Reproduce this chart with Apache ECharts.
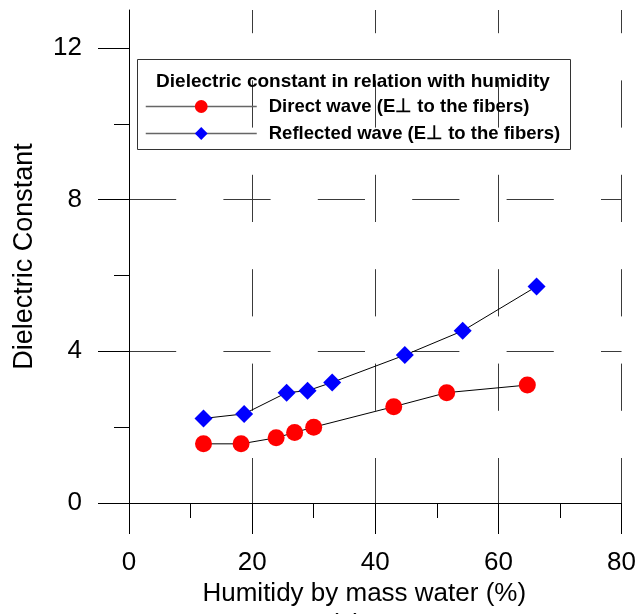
<!DOCTYPE html>
<html lang="en">
<head>
    <meta charset="UTF-8">
    <title>Dielectric constant</title>
    <style type="text/css">
        html, body { margin: 0; padding: 0; background: #fff; }
        #main { width: 639px; height: 614px; }
    </style>
</head>
<body>
<div id="main"></div>
<script type="text/javascript" src="https://cdn.jsdelivr.net/npm/echarts@6/dist/echarts.min.js"></script>
<script type="text/javascript">
    // values
    var humidityDirect = [12.1, 18.2, 23.9, 26.9, 30.0, 43.0, 51.6, 64.7];
    var directWave = [1.56, 1.56, 1.72, 1.86, 2.00, 2.54, 2.91, 3.11];
    var humidityReflected = [12.1, 18.7, 25.6, 29.0, 33.0, 44.8, 54.2, 66.2];
    var reflectedWave = [2.23, 2.35, 2.91, 2.96, 3.18, 3.90, 4.54, 5.71];
    var yTicks = [0, 4, 8, 12];
    var yMinorTicks = [2, 6, 10];
    var seriesNames = ['Direct wave (E\u22A5 to the fibers)', 'Reflected wave (E\u22A5 to the fibers)'];
    var legendTitle = 'Dielectric constant in relation with humidity';

    function pairs(xs, ys) {
        var out = [];
        for (var i = 0; i < xs.length; i++) out.push([xs[i], ys[i]]);
        return out;
    }

    var font = 'Liberation Sans, Arial, sans-serif';
    var gridColor = '#3a3a3a';

    var myChart = echarts.init(document.getElementById('main'));
    var option = {
        animation: false,
        backgroundColor: '#fff',
        textStyle: { fontFamily: font },
        grid: { left: 129, right: 15, top: 10, bottom: 111 },
        xAxis: {
            type: 'value',
            min: 0, max: 80, interval: 20,
            name: 'Humitidy by mass water (%)',
            nameLocation: 'middle',
            nameGap: 74,
            nameTextStyle: { fontSize: 26, color: '#000', fontFamily: font, padding: [0, 22, 0, 0] },
            axisLine: { lineStyle: { color: '#000', width: 1 } },
            axisTick: { length: 31, lineStyle: { color: '#000' } },
            minorTick: { show: true, splitNumber: 2, length: 15, lineStyle: { color: '#000' } },
            axisLabel: { fontSize: 26, color: '#000', margin: 47, fontFamily: font },
            splitLine: { show: true, lineStyle: { color: gridColor, width: 1, type: [47.2, 47.2], dashOffset: 24 } }
        },
        yAxis: [{
            type: 'value',
            min: 0, max: 13, interval: 4,
            name: 'Dielectric Constant',
            nameLocation: 'middle',
            nameGap: 91,
            nameTextStyle: { fontSize: 27, color: '#000', fontFamily: font },
            axisLine: { show: true, lineStyle: { color: '#000', width: 1 } },
            axisTick: { show: true, length: 31, customValues: yTicks, lineStyle: { color: '#000' } },
            axisLabel: { fontSize: 26, color: '#000', margin: 47, customValues: yTicks, fontFamily: font },
            splitLine: { show: true, showMaxLine: false, lineStyle: { color: gridColor, width: 1, type: [47.2, 47.2] } }
        }, {
            type: 'value',
            min: 0, max: 13,
            position: 'left',
            axisLine: { show: false },
            axisTick: { show: true, length: 15, customValues: yMinorTicks, lineStyle: { color: '#000' } },
            axisLabel: { show: false },
            splitLine: { show: false }
        }],
        legend: {
            orient: 'vertical',
            left: 145, top: 97,
            itemWidth: 111, itemHeight: 16, itemGap: 8,
            padding: 0,
            lineStyle: { color: '#666', width: 1.5 },
            textStyle: { fontSize: 18.5, fontWeight: 'bold', color: '#000', fontFamily: font, padding: [0, 0, 0, 7] },
            data: seriesNames
        },
        graphic: [{
            type: 'rect',
            shape: { x: 137.5, y: 59.5, width: 433, height: 90 },
            style: { fill: 'none', stroke: '#333', lineWidth: 1 },
            z: 5
        }, {
            type: 'text',
            x: 353, y: 82,
            style: { text: legendTitle, font: 'bold 19px ' + font, fill: '#000', align: 'center', verticalAlign: 'middle' },
            z: 5
        }, {
            type: 'text',
            x: 346, y: 612,
            style: { text: '(a)', font: '26px ' + font, fill: '#000', align: 'center', verticalAlign: 'top' },
            z: 5
        }],
        series: [{
            name: seriesNames[0],
            type: 'line',
            data: pairs(humidityDirect, directWave),
            symbol: 'circle',
            symbolSize: 17,
            itemStyle: { color: '#ff0000' },
            lineStyle: { color: '#000', width: 1 },
            z: 3
        }, {
            name: seriesNames[1],
            type: 'line',
            data: pairs(humidityReflected, reflectedWave),
            symbol: 'diamond',
            symbolSize: 18,
            itemStyle: { color: '#0000ff' },
            lineStyle: { color: '#000', width: 1 },
            z: 3
        }]
    };
    myChart.setOption(option);
</script>
</body>
</html>
